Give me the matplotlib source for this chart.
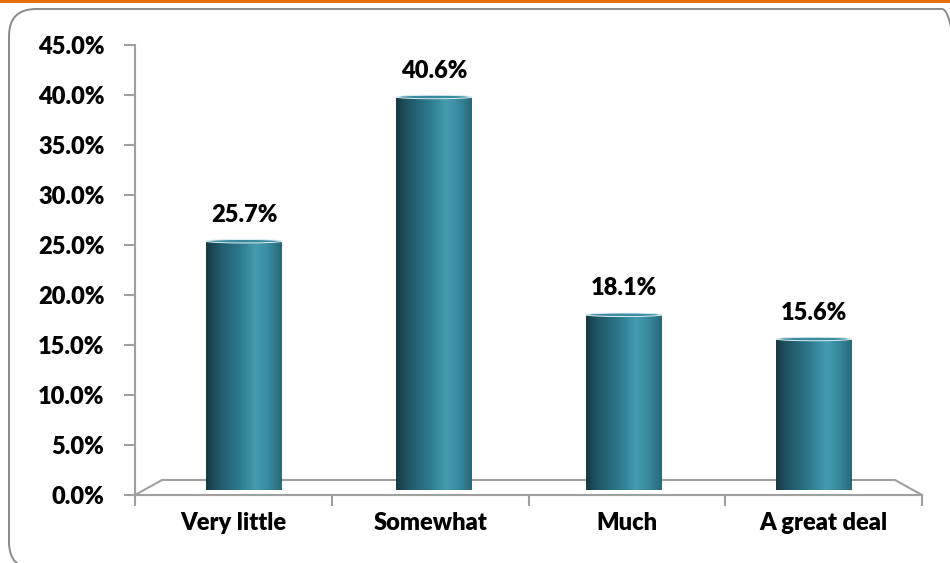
import numpy as np
import matplotlib
matplotlib.use("Agg")
import matplotlib.pyplot as plt
from matplotlib.path import Path
from matplotlib.patches import PathPatch, FancyBboxPatch, Rectangle, Ellipse
from matplotlib.colors import LinearSegmentedColormap

categories = ["Very little", "Somewhat", "Much", "A great deal"]
values = [25.7, 40.6, 18.1, 15.6]
y_ticks = [0, 5, 10, 15, 20, 25, 30, 35, 40, 45]
y_tick_labels = ["0.0%", "5.0%", "10.0%", "15.0%", "20.0%", "25.0%", "30.0%", "35.0%", "40.0%", "45.0%"]
value_labels = ["25.7%", "40.6%", "18.1%", "15.6%"]

FONT = "Lato"
FW = "heavy"
FS = 17
GRAY = "#a0a0a0"

W, H = 950, 563
fig = plt.figure(figsize=(W / 100, H / 100), dpi=100)
fig.patch.set_facecolor("white")

def fx(px):
    return px / W

def fy(py):
    return (H - py) / H

# orange top line
fig.add_artist(Rectangle((0, fy(3)), 1, 3 / H, transform=fig.transFigure,
                         facecolor="#E46C0A", edgecolor="none", zorder=0))
# rounded border
fig.add_artist(FancyBboxPatch((0.09, -0.06), 9.6, 5.6,
                              boxstyle="round,pad=0,rounding_size=0.27",
                              transform=fig.dpi_scale_trans, facecolor="none",
                              edgecolor="#8a8a8a", linewidth=1.4, zorder=0))

# main axes (front plane)
ax = fig.add_axes([fx(135), fy(495), fx(922) - fx(135), fy(45) - fy(495)])
ax.set_xlim(0, len(categories))
ax.set_ylim(0, 45)
ax.patch.set_alpha(0)
for s in ["top", "right"]:
    ax.spines[s].set_visible(False)
ax.spines["left"].set_color(GRAY)
ax.spines["bottom"].set_color(GRAY)
ax.spines["left"].set_linewidth(1.5)
ax.spines["bottom"].set_linewidth(1.5)
ax.set_yticks(y_ticks)
ax.set_yticklabels(y_tick_labels)
ax.tick_params(axis="y", length=8, width=1.5, color=GRAY, pad=14)
ax.set_xticks(np.arange(len(categories) + 1))
ax.set_xticklabels([])
ax.set_xticks(np.arange(len(categories)) + 0.5, minor=True)
ax.set_xticklabels(categories, minor=True)
ax.tick_params(axis="x", which="major", length=8, width=1.5, color=GRAY)
ax.tick_params(axis="x", which="minor", length=0, pad=12)
for lab in ax.get_yticklabels() + ax.get_xticklabels(minor=True):
    lab.set_fontfamily(FONT)
    lab.set_fontweight(FW)
    lab.set_fontsize(FS)
    lab.set_color("black")

# 3D floor
dx = 27 / (922 - 135)
dy = 15 / (495 - 45)
ax.plot([0, dx, 1 - dx, 1], [0, dy, dy, 0], transform=ax.transAxes,
        color=GRAY, lw=1.5, clip_on=False, zorder=1)

# bar axes (depth plane)
bx = fig.add_axes([fx(149), fy(490), fx(909) - fx(149), fy(490 - 435.6) - fy(490)])
bx.set_xlim(-0.5, len(categories) - 0.5)
bx.set_ylim(0, 45)
bx.axis("off")
bx.patch.set_alpha(0)

cmap = LinearSegmentedColormap.from_list("cyl", [
    (0.0, "#163842"), (0.15, "#1f5565"), (0.45, "#2e7b8f"),
    (0.66, "#449bb0"), (0.82, "#3a8aa0"), (1.0, "#286878")])
grad = np.linspace(0, 1, 256)[None, :]

bw = 0.4
eb = 0.38   # bottom ellipse semi-height (%)
et = 0.18   # top ellipse semi-height (%)
bars = bx.bar(np.arange(len(categories)), values, width=bw, color="none", edgecolor="none")
for rect, v, lab in zip(bars, values, value_labels):
    x0 = rect.get_x()
    x1 = x0 + rect.get_width()
    xc = (x0 + x1) / 2
    h = rect.get_height()
    th = np.linspace(0, np.pi, 60)
    arc_x = xc + (bw / 2) * np.cos(th)
    arc_y = 0 - eb * np.sin(th)
    verts = [(x0, h), (x1, h)] + list(zip(arc_x, arc_y)) + [(x0, h)]
    codes = [Path.MOVETO] + [Path.LINETO] * (len(verts) - 2) + [Path.CLOSEPOLY]
    patch = PathPatch(Path(verts, codes), facecolor="none", edgecolor="none")
    bx.add_patch(patch)
    im = bx.imshow(grad, cmap=cmap, aspect="auto", extent=[x0, x1, -eb, h],
                   zorder=2, interpolation="bicubic")
    im.set_clip_path(patch)
    cap = Ellipse((xc, h), bw, 2 * et, facecolor="#3a8aa0", edgecolor="#dfeef1",
                  lw=0.7, zorder=3)
    bx.add_patch(cap)
    bx.annotate(lab, (xc, h), xytext=(0, 14), textcoords="offset points",
                ha="center", va="baseline", fontfamily=FONT, fontweight=FW,
                fontsize=FS, color="black", annotation_clip=False)

bx.set_xlim(-0.5, len(categories) - 0.5)
bx.set_ylim(0, 45)

fig.savefig("out.png", dpi=100, facecolor="white")
